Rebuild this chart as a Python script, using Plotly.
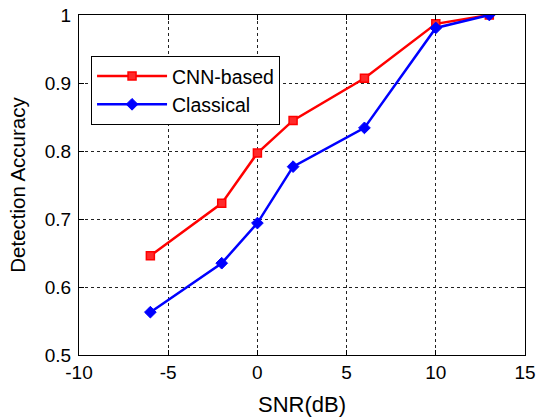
import plotly.graph_objects as go

snr = [-6, -2, 0, 2, 6, 10, 13]
cnn_acc = [0.646, 0.723, 0.797, 0.845, 0.907, 0.987, 1.0]
classical_acc = [0.563, 0.635, 0.694, 0.777, 0.834, 0.981, 1.0]

x_ticks = [-10, -5, 0, 5, 10, 15]
x_tick_labels = ["-10", "-5", "0", "5", "10", "15"]
y_ticks = [0.5, 0.6, 0.7, 0.8, 0.9, 1.0]
y_tick_labels = ["0.5", "0.6", "0.7", "0.8", "0.9", "1"]

FONT = "Liberation Sans, Arial"

fig = go.Figure()
fig.add_trace(go.Scatter(
    x=snr, y=cnn_acc, mode="lines+markers", name="CNN-based",
    line=dict(color="#ff0000", width=2.5),
    marker=dict(symbol="square", size=8, color="#ff2a2a", line=dict(color="#ff0000", width=1.5)),
))
fig.add_trace(go.Scatter(
    x=snr, y=classical_acc, mode="lines+markers", name="Classical",
    line=dict(color="#0000ff", width=2.5),
    marker=dict(symbol="diamond", size=9, color="#0000ff", line=dict(color="#0000ff", width=1)),
))

axis_common = dict(
    showline=True, linecolor="black", linewidth=1, mirror="ticks",
    ticks="inside", ticklen=5, tickcolor="black",
    showgrid=True, gridcolor="#222222", gridwidth=1, griddash="dot",
    zeroline=False, automargin=False,
    tickfont=dict(family=FONT, size=19, color="black"),
)

fig.update_xaxes(range=[-10, 15], tickvals=x_ticks, ticktext=x_tick_labels,
                 title=dict(text="SNR(dB)", font=dict(family=FONT, size=22, color="black"), standoff=14),
                 **axis_common)
fig.update_yaxes(range=[0.5, 1.0], tickvals=y_ticks, ticktext=y_tick_labels,
                 ticklabelstandoff=3,
                 title=dict(text="Detection Accuracy", font=dict(family=FONT, size=20.5, color="black"), standoff=13),
                 **axis_common)

fig.update_layout(
    width=537, height=419,
    margin=dict(l=79, r=12, t=15, b=64),
    paper_bgcolor="white", plot_bgcolor="white",
    legend=dict(x=0.027, y=0.88, xanchor="left", yanchor="top",
                bgcolor="white", bordercolor="black", borderwidth=1,
                font=dict(family=FONT, size=19.5, color="black"),
                itemwidth=70, tracegroupgap=0),
    showlegend=True,
)

fig.write_html("out.html", config={"displayModeBar": False},
               post_script="document.body.style.margin='0px';")
